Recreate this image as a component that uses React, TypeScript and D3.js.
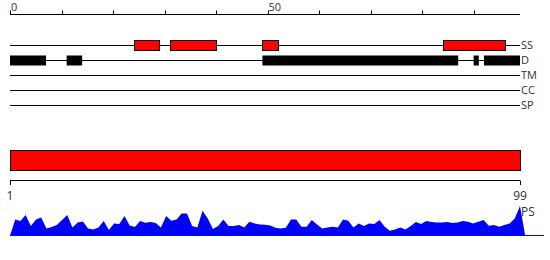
import React from "react";
import * as d3 from "d3";

const topTicks = [0, 10, 20, 30, 40, 50, 60, 70, 80, 90];
const topTickLabels = ["0", "50"];
const trackNames = ["SS", "D", "TM", "CC", "SP"];
const ssBoxes: [number, number][] = [[24, 29], [31, 40], [49, 52], [84, 96]];
const dBoxes: [number, number][] = [[0, 7], [11, 14], [49, 87], [90, 91], [92, 99]];
const residueRange = [1, 99];
const psValues = [
  0, 16.3, 14.7, 20.7, 9.7, 16.3, 18.3, 7.3, 8.7, 10.7,
  15.7, 20.7, 8.3, 13.3, 14.3, 7.3, 6.3, 8.3, 14.7, 5.7,
  12.3, 11.7, 19.7, 10.3, 8.7, 14.7, 13, 13.7, 12.7, 8.3,
  19.7, 15, 16.3, 22.3, 22.3, 9.7, 8.3, 25, 17.3, 6.7,
  9.7, 16.3, 9.7, 9.7, 10.7, 8.3, 14, 12.3, 11.3, 11,
  10.3, 8, 7.3, 8, 16.3, 16.3, 9, 9, 15.7, 11.3,
  7.3, 8.3, 9, 8.3, 16.3, 15, 8.3, 12.3, 9.7, 12.3,
  11.7, 15.7, 9, 5, 6.3, 8.3, 6.3, 9.7, 13.7, 11.7,
  14.7, 13.7, 13.3, 13.3, 13.7, 12.7, 13.3, 14.7, 14, 12.3,
  14, 15.7, 10, 10.7, 9, 10.7, 12.3, 17.3, 29.7, 0,
];

const FONT = "'Open Sans', sans-serif";

export default function App() {
  const x = d3.scaleLinear().domain([0, 99]).range([10, 520]);
  const xr = d3.scaleLinear().domain(residueRange).range([10, 520]);
  const trackY = d3.scalePoint<string>().domain(trackNames).range([45, 105]);
  const yPS = d3.scaleLinear().domain([0, 30]).range([235.7, 205.7]);
  const area = d3
    .area<number>()
    .x((_, i) => xr(i + 1))
    .y0(yPS(0))
    .y1((d) => yPS(d));

  const boxH = 10;
  return (
    <svg
      width={550}
      height={260}
      style={{ position: "absolute", left: 0, top: 0, background: "#fff" }}
      fontFamily={FONT}
    >
      {/* top axis */}
      <line x1={x(0)} x2={x(99)} y1={14.5} y2={14.5} stroke="#000" />
      {topTicks.map((t) => (
        <line key={t} x1={Math.round(x(t)) + 0.5} x2={Math.round(x(t)) + 0.5} y1={14.5} y2={10.5} stroke="#000" />
      ))}
      {topTickLabels.map((l) => (
        <text key={l} x={x(+l) + 1} y={10.5} fontSize={11} fill="#333">
          {l}
        </text>
      ))}

      {/* tracks */}
      {trackNames.map((n) => (
        <g key={n}>
          <line x1={x(0)} x2={x(99)} y1={trackY(n)! + 0.5} y2={trackY(n)! + 0.5} stroke="#000" />
          <text x={521} y={trackY(n)! + 0.5} dy="0.35em" fontSize={11} fill="#333">
            {n}
          </text>
        </g>
      ))}
      {ssBoxes.map(([a, b], i) => (
        <rect
          key={"ss" + i}
          x={Math.round(x(a)) + 0.5}
          y={trackY("SS")! - boxH / 2 + 0.5}
          width={Math.round(x(b)) - Math.round(x(a))}
          height={boxH}
          fill="#ff0000"
          stroke="#000"
        />
      ))}
      {dBoxes.map(([a, b], i) => (
        <rect
          key={"d" + i}
          x={x(a)}
          y={trackY("D")! - boxH / 2 + 0.5}
          width={x(b) - x(a)}
          height={boxH}
          fill="#000"
        />
      ))}

      {/* big red bar */}
      <rect x={xr(1) + 0.5} y={150.5} width={xr(99) - xr(1)} height={20} fill="#ff0000" stroke="#000" />

      {/* bottom axis */}
      <line x1={xr(1)} x2={xr(99)} y1={180.5} y2={180.5} stroke="#000" />
      {residueRange.map((r) => (
        <g key={r}>
          <line x1={Math.round(xr(r)) + 0.5} x2={Math.round(xr(r)) + 0.5} y1={180.5} y2={185} stroke="#000" />
          <text x={xr(r)} y={200} textAnchor="middle" fontSize={12} fill="#333">
            {r}
          </text>
        </g>
      ))}

      {/* PS area */}
      <path d={area(psValues) || ""} fill="#0000ff" />
      <line x1={xr(1)} x2={544} y1={235.5} y2={235.5} stroke="#0000ff" />
      <text x={521} y={212} dy="0.35em" fontSize={12} fill="#333">
        PS
      </text>
    </svg>
  );
}
